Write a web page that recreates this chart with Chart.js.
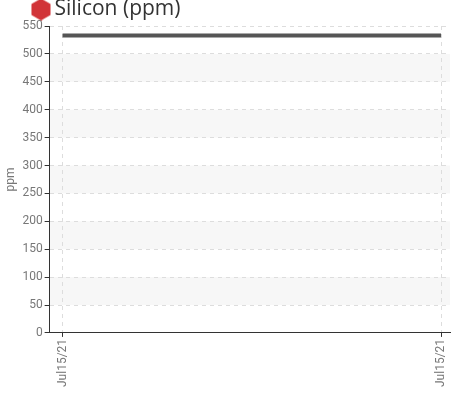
<!DOCTYPE html>
<html lang="en">
<head>
    <meta charset="UTF-8">
    <title>Silicon (ppm)</title>
    <style>
        html, body { margin: 0; padding: 0; background: #fff; overflow: hidden; }
        #chart-container { position: absolute; left: 0; top: -37px; width: 451px; height: 436px; }
    </style>
</head>
<body>
    <div id="chart-container">
        <canvas id="siliconChart"></canvas>
    </div>

    <script src="https://cdn.jsdelivr.net/npm/chart.js"></script>
    <script>
        // data
        const dateLabels = ['Jul15/21', 'Jul15/21'];
        const samplePos = [0, 1];
        const siliconValues = [533, 533];
        const yTicks = [0, 50, 100, 150, 200, 250, 300, 350, 400, 450, 500, 550];

        const tickFont = { family: "Roboto, sans-serif", size: 12 };

        // red hexagon for the legend marker
        const hex = document.createElement('canvas');
        hex.width = 20; hex.height = 22;
        (function () {
            const c = hex.getContext('2d');
            c.fillStyle = '#d13438';
            c.beginPath();
            for (let i = 0; i < 6; i++) {
                const a = -Math.PI / 2 + i * Math.PI / 3;
                const px = 10 + 11 * Math.cos(a), py = 11 + 11 * Math.sin(a);
                i ? c.lineTo(px, py) : c.moveTo(px, py);
            }
            c.closePath();
            c.fill();
        })();

        // alternate shaded bands behind the grid
        const bands = {
            id: 'bands',
            beforeDraw(chart) {
                const { ctx, chartArea, scales: { y } } = chart;
                ctx.save();
                ctx.fillStyle = '#f7f7f7';
                for (let i = 1; i < yTicks.length - 1; i += 2) {
                    const top = y.getPixelForValue(yTicks[i + 1]);
                    const bottom = y.getPixelForValue(yTicks[i]);
                    ctx.fillRect(chartArea.left, top, chartArea.right - chartArea.left, bottom - top);
                }
                ctx.restore();
            }
        };

        const ctx = document.getElementById('siliconChart').getContext('2d');
        new Chart(ctx, {
            type: 'line',
            data: {
                datasets: [{
                    label: 'Silicon (ppm)',
                    data: samplePos.map((x, i) => ({ x: x, y: siliconValues[i] })),
                    borderColor: '#555555',
                    backgroundColor: '#d13438',
                    borderWidth: 4,
                    pointRadius: 0,
                    pointStyle: hex
                }]
            },
            options: {
                responsive: true,
                maintainAspectRatio: false,
                animation: false,
                layout: { padding: { left: 2, right: 1, top: 0, bottom: 10 } },
                plugins: {
                    tooltip: { enabled: false },
                    legend: {
                        align: 'start',
                        maxHeight: 63,
                        labels: {
                            usePointStyle: true,
                            pointStyleWidth: 6,
                            padding: 36,
                            color: '#333',
                            font: { family: "'Open Sans', sans-serif", size: 21 }
                        }
                    }
                },
                scales: {
                    x: {
                        type: 'linear',
                        min: -0.0342,
                        max: 1.0237,
                        afterBuildTicks: (axis) => { axis.ticks = samplePos.map(v => ({ value: v })); },
                        afterFit: (axis) => { axis.paddingRight = 0; axis.paddingLeft = 0; },
                        ticks: {
                            autoSkip: false,
                            maxRotation: 90,
                            minRotation: 90,
                            color: '#777',
                            font: tickFont,
                            padding: 2,
                            callback: (v) => dateLabels[samplePos.indexOf(v)]
                        },
                        grid: { color: '#dddddd', tickColor: '#333', tickLength: 4 },
                        border: { color: '#333', width: 1, dash: [4, 4] }
                    },
                    y: {
                        min: 0,
                        max: 550,
                        afterBuildTicks: (axis) => { axis.ticks = yTicks.map(v => ({ value: v })); },
                        ticks: { color: '#777', font: tickFont, padding: 2 },
                        title: { display: true, text: 'ppm', color: '#777', font: { family: tickFont.family, size: 12 }, padding: 2 },
                        grid: { color: '#dddddd', tickColor: '#333', tickLength: 5 },
                        border: { color: '#333', width: 1, dash: [4, 4] }
                    }
                }
            },
            plugins: [bands]
        });
    </script>
</body>
</html>
